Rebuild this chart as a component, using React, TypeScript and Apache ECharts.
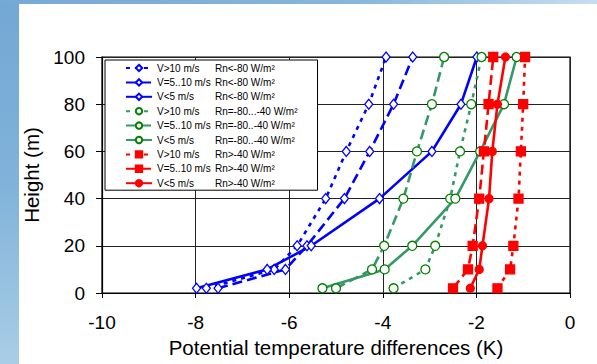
import React, { useEffect, useRef } from "react";
import * as echarts from "echarts";

const heights = [2, 10, 20, 40, 60, 80, 100];

const blueV10 = [-7.77, -6.32, -5.83, -5.22, -4.78, -4.3, -3.93];
const blueV510 = [-7.52, -6.08, -5.62, -4.82, -4.28, -3.77, -3.36];
const blueV5 = [-7.98, -6.47, -5.53, -4.07, -2.95, -2.33, -1.99];

const greenV10 = [-3.77, -3.09, -2.88, -2.56, -2.35, -2.11, -1.89];
const greenV510 = [-5.0, -4.23, -3.97, -3.56, -3.27, -2.95, -2.69];
const greenV5 = [-5.29, -3.96, -3.37, -2.45, -1.92, -1.41, -1.14];

const redV10 = [-1.55, -1.28, -1.21, -1.1, -1.05, -1.0, -0.96];
const redV510 = [-2.5, -2.18, -2.08, -1.94, -1.84, -1.74, -1.64];
const redV5 = [-2.13, -1.94, -1.87, -1.73, -1.66, -1.55, -1.38];

const speedLabels = ["V>10 m/s", "V=5..10 m/s", "V<5 m/s"];
const rnLabels = ["Rn<-80 W/m²", "Rn=-80...-40 W/m²", "Rn=-80..-40 W/m²", "Rn>-40 W/m²"];

const xTicks = { min: -10, max: 0, interval: 2 };
const yTicks = { min: 0, max: 100, interval: 20 };

const FONT = "Liberation Sans, Arial, sans-serif";

export default function App() {
  const ref = useRef<HTMLDivElement>(null);

  useEffect(() => {
    if (!ref.current) return;
    const chart = echarts.init(ref.current, null, { renderer: "svg" });

    const DOT = [4, 5];
    const DASH = [10, 5];

    const mk = (
      name: string,
      xs: number[],
      color: string,
      dash: any,
      symbol: string,
      symbolSize: any,
      fill: string,
      border: string
    ) => ({
      name,
      type: "line",
      data: xs.map((x, i) => [x, heights[i]]),
      lineStyle: { color, width: 2.6, type: dash },
      itemStyle: { color: fill, borderColor: border, borderWidth: 1.3 },
      symbol,
      symbolSize,
      showSymbol: true,
      z: 3,
    });

    const BLUE = "#0000ff";
    const GREEN = "#339966";
    const GREEN_M = "#008000";
    const RED = "#ff0000";

    const series = [
      mk(`${speedLabels[0]}|${rnLabels[0]}`, blueV10, BLUE, DOT, "diamond", [8, 10], "#fff", BLUE),
      mk(`${speedLabels[1]}|${rnLabels[0]}`, blueV510, BLUE, DASH, "diamond", [8, 10], "#fff", BLUE),
      mk(`${speedLabels[2]}|${rnLabels[0]}`, blueV5, BLUE, "solid", "diamond", [8, 10], "#fff", BLUE),
      mk(`${speedLabels[0]}|${rnLabels[1]}`, greenV10, GREEN, DOT, "circle", 9, "#fff", GREEN_M),
      mk(`${speedLabels[1]}|${rnLabels[2]}`, greenV510, GREEN, DASH, "circle", 9, "#fff", GREEN_M),
      mk(`${speedLabels[2]}|${rnLabels[2]} `, greenV5, GREEN, "solid", "circle", 9, "#fff", GREEN_M),
      mk(`${speedLabels[0]}|${rnLabels[3]}`, redV10, RED, DOT, "rect", 9, RED, RED),
      mk(`${speedLabels[1]}|${rnLabels[3]} `, redV510, RED, DASH, "rect", 9, RED, RED),
      mk(`${speedLabels[2]}|${rnLabels[3]}  `, redV5, RED, "solid", "circle", 8, RED, RED),
    ];

    chart.setOption({
      animation: false,
      backgroundColor: "transparent",
      textStyle: { fontFamily: FONT },
      grid: { left: 102, top: 57, width: 468, height: 236, show: true, borderColor: "#000", borderWidth: 1.2, backgroundColor: "transparent" },
      legend: {
        orient: "vertical",
        left: 105,
        top: 60,
        padding: [2, 20, 1, 20],
        itemWidth: 26,
        itemHeight: 8,
        itemGap: 2.4,
        backgroundColor: "#fff",
        borderColor: "#000",
        borderWidth: 1,
        selectedMode: false,
        z: 10,
        data: series.map((s) => s.name),
        formatter: (name: string) => {
          const [a, b] = name.split("|");
          return `{a|${a}}{b|${b.trim()}}`;
        },
        textStyle: {
          fontFamily: FONT,
          color: "#000",
          rich: {
            a: { width: 58, fontSize: 10, lineHeight: 12, height: 12, fontFamily: FONT, color: "#000" },
            b: { width: 80, fontSize: 10, lineHeight: 12, height: 12, fontFamily: FONT, color: "#000" },
          },
        },
      },
      xAxis: {
        type: "value",
        min: xTicks.min,
        max: xTicks.max,
        interval: xTicks.interval,
        name: "Potential temperature differences (K)",
        nameLocation: "middle",
        nameGap: 44,
        nameTextStyle: { fontSize: 20.5, color: "#000", fontFamily: FONT },
        axisLine: { show: true, onZero: false, lineStyle: { color: "#000", width: 1.2 } },
        axisTick: { show: true, inside: false, length: 5, lineStyle: { color: "#000" } },
        axisLabel: { fontSize: 19, color: "#000", margin: 20, fontFamily: FONT },
        splitLine: { show: true, lineStyle: { color: "#222", width: 1 } },
      },
      yAxis: {
        type: "value",
        min: yTicks.min,
        max: yTicks.max,
        interval: yTicks.interval,
        name: "Height (m)",
        nameLocation: "middle",
        nameGap: 56,
        nameRotate: 90,
        nameTextStyle: { fontSize: 20.5, color: "#000", fontFamily: FONT },
        axisLine: { show: true, onZero: false, lineStyle: { color: "#000", width: 1.2 } },
        axisTick: { show: true, inside: false, length: 6, lineStyle: { color: "#000" } },
        axisLabel: { fontSize: 19, color: "#000", margin: 17, fontFamily: FONT },
        splitLine: { show: true, lineStyle: { color: "#222", width: 1 } },
      },
      series,
    });

    return () => chart.dispose();
  }, []);

  return (
    <div
      style={{
        position: "absolute",
        left: 0,
        top: 0,
        width: 597,
        height: 364,
        overflow: "hidden",
        background: "linear-gradient(180deg, #74a8d4 0%, #80b2da 50%, #a9cde6 100%)",
      }}
    >
      <div
        style={{
          position: "absolute",
          left: 0,
          top: 0,
          width: 597,
          height: 4,
          background: "linear-gradient(90deg, #76a9d5 0%, #86b6dc 60%, #c8def0 100%)",
        }}
      />
      <div style={{ position: "absolute", left: 19, top: 4, width: 578, height: 360, background: "#fff" }} />
      <div ref={ref} style={{ position: "absolute", left: 0, top: 0, width: 597, height: 364 }} />
    </div>
  );
}
